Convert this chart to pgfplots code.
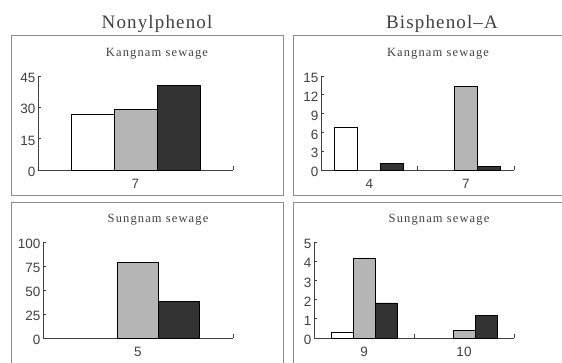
\documentclass[border=0pt]{standalone}
\usepackage{pgfplots}
\pgfplotsset{compat=1.18}
\usepackage{fontspec}
\setmainfont{Liberation Serif}
\newfontfamily\tickfont{Liberation Sans}
\newfontfamily\titlefont[LetterSpace=6]{Liberation Serif}
\newfontfamily\subfont[LetterSpace=9]{Liberation Serif}
\definecolor{txt}{HTML}{404040}
\definecolor{dark}{HTML}{333333}
\definecolor{hatch}{HTML}{B5B5B5}
\definecolor{frame}{HTML}{8C8C8C}
\pgfplotsset{
 panel/.style={
  scale only axis, anchor=south west, clip=false,
  axis lines*=left, axis line style={-, draw=txt, line width=0.8pt},
  ybar=0pt, ymin=0, xmin=0,
  tick align=inside, major tick length=3pt, minor tick length=4pt,
  tick style={draw=txt, line width=0.7pt},
  major x tick style={draw=none},
  /pgf/number format/assume math mode=true,
  ticklabel style={font=\tickfont\fontsize{13.5}{13.5}\selectfont, text=txt},
  xticklabel style={yshift=-6pt},
  yticklabel style={xshift=1pt, yshift=-2pt},
 },
 wbar/.style={fill=white, draw=black, line width=0.6pt},
 gbar/.style={fill=hatch, draw=black, line width=0.6pt},
 kbar/.style={fill=dark, draw=black, line width=0.6pt},
}
\begin{document}
\begin{tikzpicture}[x=1pt,y=1pt]
\useasboundingbox (0,0) rectangle (562,363);
\begin{scope}
\clip (0,0) rectangle (562,363);
\draw[frame, line width=1pt] (11,167) rectangle (283,327);
\draw[frame, line width=1pt] (293,167) rectangle (600,327);
\draw[frame, line width=1pt] (11,-20) rectangle (283,160);
\draw[frame, line width=1pt] (293,-20) rectangle (600,160);
\end{scope}
\node[anchor=base, font=\titlefont\fontsize{19}{21}\selectfont, text=txt] at (157,334) {Nonylphenol};
\node[anchor=base, font=\titlefont\fontsize{19}{21}\selectfont, text=txt] at (442,334) {Bisphenol\textendash A};
\node[anchor=base, font=\subfont\fontsize{12.5}{14}\selectfont, text=txt] at (157,306) {Kangnam sewage};
\node[anchor=base, font=\subfont\fontsize{12.5}{14}\selectfont, text=txt] at (438,306) {Kangnam sewage};
\node[anchor=base, font=\subfont\fontsize{12.5}{14}\selectfont, text=txt] at (158,140) {Sungnam sewage};
\node[anchor=base, font=\subfont\fontsize{12.5}{14}\selectfont, text=txt] at (439,140) {Sungnam sewage};

% Nonylphenol - Kangnam
\begin{axis}[panel, at={(38pt,193pt)}, width=195pt, height=94pt, xmax=1, ymax=45,
  ytick={0,15,30,45}, xtick={0.5}, xticklabels={7}, minor xtick={1}, bar width=43pt]
\addplot[wbar, bar shift=-43pt] coordinates {(0.5,26.8)};
\addplot[gbar, bar shift=0pt] coordinates {(0.5,29)};
\addplot[kbar, bar shift=43pt] coordinates {(0.5,40.5)};
\end{axis}

% Bisphenol-A - Kangnam
\begin{axis}[panel, at={(321pt,193pt)}, width=193pt, height=94pt, xmax=2, ymax=15,
  ytick={0,3,6,9,12,15}, xtick={0.5,1.5}, xticklabels={4,7}, minor xtick={1,2}, bar width=23pt]
\addplot[wbar, bar shift=-23pt] coordinates {(0.5,6.8)};
\addplot[gbar, bar shift=0pt] coordinates {(1.5,13.3)};
\addplot[kbar, bar shift=23pt] coordinates {(0.5,1.0) (1.5,0.55)};
\end{axis}

% Nonylphenol - Sungnam
\begin{axis}[panel, at={(43pt,25pt)}, width=190pt, height=96pt, xmax=1, ymax=100,
  ytick={0,25,50,75,100}, xtick={0.5}, xticklabels={5}, minor xtick={1}, bar width=41pt]
\addplot[gbar, bar shift=0pt] coordinates {(0.5,79)};
\addplot[kbar, bar shift=41pt] coordinates {(0.5,38)};
\end{axis}

% Bisphenol-A - Sungnam
\begin{axis}[panel, at={(314pt,25pt)}, width=200pt, height=96pt, xmax=2, ymax=5,
  ytick={0,1,2,3,4,5}, xtick={0.5,1.5}, xticklabels={9,10}, minor xtick={1,2}, bar width=22pt]
\addplot[wbar, bar shift=-22pt] coordinates {(0.5,0.32)};
\addplot[gbar, bar shift=0pt] coordinates {(0.5,4.17) (1.5,0.4)};
\addplot[kbar, bar shift=22pt] coordinates {(0.5,1.83) (1.5,1.17)};
\end{axis}
\end{tikzpicture}
\end{document}
